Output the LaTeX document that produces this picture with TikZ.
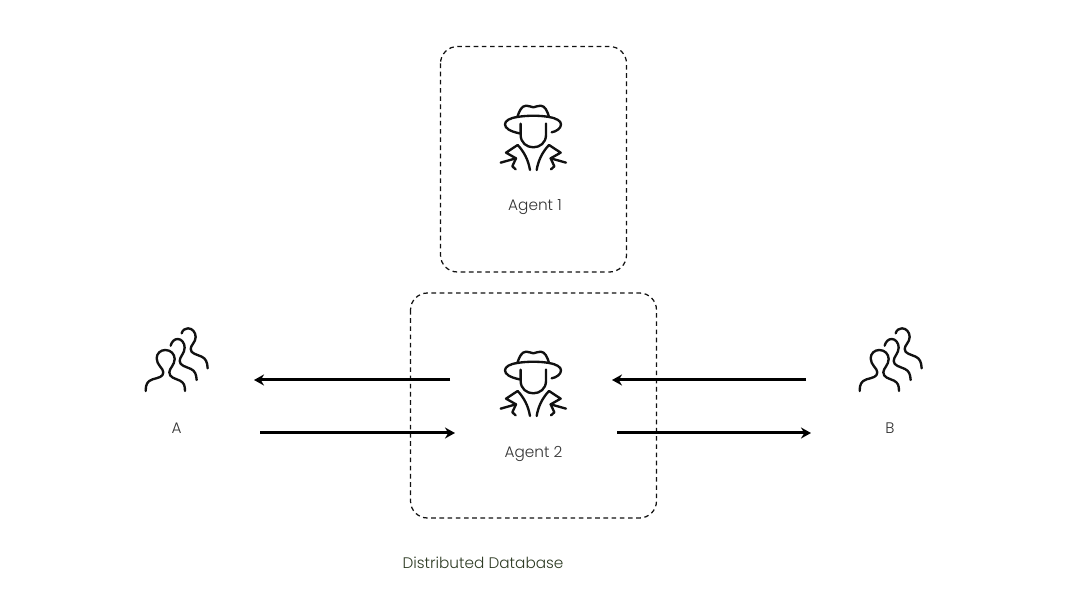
\documentclass[tikz,border=0pt]{standalone}
\usepackage{fontspec}
\setmainfont{Poppins Light}
\usetikzlibrary{arrows.meta}
\definecolor{inkc}{HTML}{111111}
\definecolor{capgreen}{HTML}{2C3A22}
\tikzset{
  x=1pt,y=-1pt,
  iconline/.style={draw=inkc,line width=2.35pt,line cap=round,line join=round,x=.3333pt,y=-.3333pt},
  dashbox/.style={draw=inkc,line width=1.25pt,dash pattern=on 4.6pt off 3.6pt,rounded corners=17pt},
  flow/.style={draw=black,line width=3pt,-{Stealth[length=10pt,width=11pt]}},
  lbl/.style={font=\fontsize{15.3}{18}\selectfont,text=black!80,inner sep=0pt,anchor=center},
  agenticon/.pic={
    % brim
    \draw[iconline] (118,130) .. controls (90,124) and (75,115) .. (75,103) .. controls (75,92) and (90,84) .. (112,81) .. controls (140,76) and (180,76) .. (207,81) .. controls (230,85) and (243,93) .. (243,103) .. controls (243,115) and (230,124) .. (215,127);
    % crown
    \draw[iconline] (112,81) .. controls (118,62) and (125,48) .. (138,47) .. controls (148,46) and (152,52) .. (160,52) .. controls (168,52) and (172,46) .. (182,47) .. controls (195,48) and (202,62) .. (207,81);
    % face
    \draw[iconline] (122,101) -- (122,135) .. controls (122,158) and (140,172) .. (160,172) .. controls (180,172) and (198,158) .. (198,135) -- (198,101);
    % jacket
    \draw[iconline] (150,240) .. controls (145,210) and (132,185) .. (113,165) -- (78,188) -- (108,205) -- (62,218);
    \draw[iconline] (108,205) -- (97,229) -- (107,238);
    \draw[iconline] (170,240) .. controls (175,210) and (188,185) .. (207,165) -- (242,188) -- (212,205) -- (258,218);
    \draw[iconline] (212,205) -- (223,229) -- (213,238);
  },
  crowdicon/.pic={
    \draw[iconline] (47,228) .. controls (47,208) and (52,198) .. (68,193) .. controls (85,188) and (100,186) .. (100,172) .. controls (100,160) and (80,150) .. (80,130) .. controls (80,115) and (92,105) .. (106,105) .. controls (122,105) and (134,117) .. (134,132) .. controls (134,150) and (118,160) .. (118,172) .. controls (118,188) and (135,190) .. (150,197) .. controls (162,203) and (165,212) .. (165,228);
    \draw[iconline] (122,92) .. controls (125,80) and (133,72) .. (143,72) .. controls (155,72) and (164,84) .. (164,98) .. controls (164,115) and (149,125) .. (149,138) .. controls (149,152) and (168,155) .. (183,162) .. controls (195,168) and (199,178) .. (200,195);
    \draw[iconline] (155,55) .. controls (158,45) and (165,40) .. (174,40) .. controls (187,40) and (197,52) .. (197,66) .. controls (197,82) and (182,90) .. (182,102) .. controls (182,116) and (200,118) .. (215,125) .. controls (228,131) and (232,142) .. (233,160);
  },
}
\begin{document}
\begin{tikzpicture}
\useasboundingbox (0,0) rectangle (1066,609);
\coordinate (b1a) at (440.5,46.5); \coordinate (b1b) at (626.5,272);
\coordinate (b2a) at (410.5,293); \coordinate (b2b) at (656.5,518);
\draw[dashbox] (b1a) rectangle (b1b);
\draw[dashbox] (b2a) rectangle (b2b);
\pic at (480,90) {agenticon};
\pic at (480,336) {agenticon};
\pic at (130,315) {crowdicon};
\pic at (844,315) {crowdicon};
\node[lbl] (agent1) at (535,207.5) {Agent 1};
\node[lbl] (agent2) at (533.5,453.5) {Agent 2};
\node[lbl] (a) at (176.5,428.5) {A};
\node[lbl] (b) at (890,428.5) {B};
\node[lbl,text=capgreen] (db) at (483,562.5) {Distributed Database};
\coordinate (p1s) at (450,380); \coordinate (p1e) at (254,380);
\coordinate (p2s) at (260,433); \coordinate (p2e) at (455,433);
\coordinate (p3s) at (806,380); \coordinate (p3e) at (612,380);
\coordinate (p4s) at (617,433); \coordinate (p4e) at (811,433);
\draw[flow] (p1s) -- (p1e);
\draw[flow] (p2s) -- (p2e);
\draw[flow] (p3s) -- (p3e);
\draw[flow] (p4s) -- (p4e);
\end{tikzpicture}
\end{document}
